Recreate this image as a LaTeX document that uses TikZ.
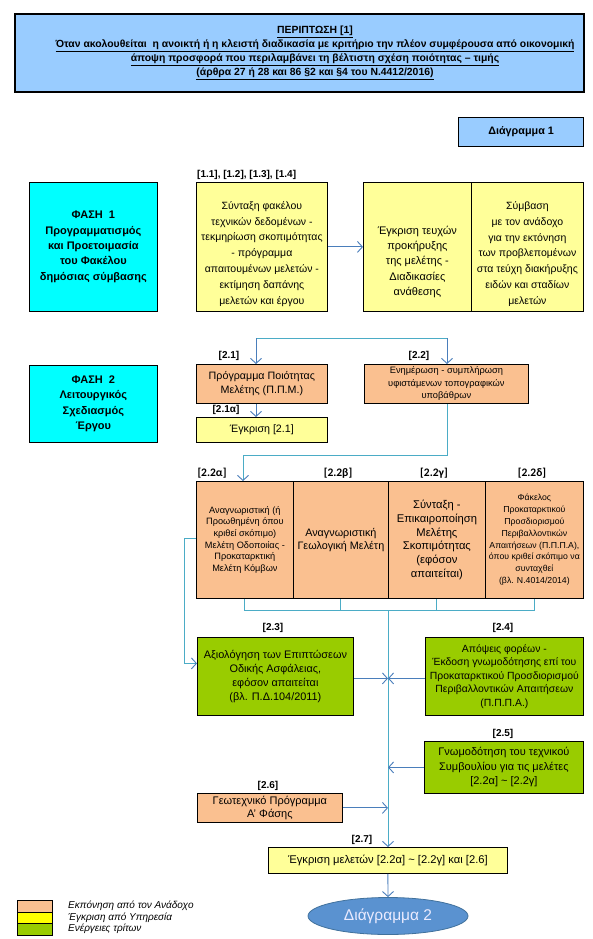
\documentclass[tikz,border=0pt]{standalone}
\usepackage{fontspec}
\setmainfont{Liberation Sans}
\newfontfamily\calib{Carlito}
\usetikzlibrary{arrows.meta,shapes.geometric}
\definecolor{titleblue}{HTML}{99CCFF}
\definecolor{cyanbox}{HTML}{00FFFF}
\definecolor{lyellow}{HTML}{FFFF99}
\definecolor{peach}{HTML}{FAC090}
\definecolor{greenbox}{HTML}{99CC00}
\definecolor{byellow}{HTML}{FFFF00}
\definecolor{ellblue}{HTML}{5A92D0}
\definecolor{ellborder}{HTML}{41719C}
\definecolor{tealline}{HTML}{4BACC6}
\definecolor{arrblue}{HTML}{4A7EBB}
\newcommand\myfs[2]{\fontsize{#1}{#2}\selectfont}
\begin{document}
\begin{tikzpicture}[x=1pt,y=-1pt,
  bx/.style={draw=black, line width=0.8pt, inner sep=1pt, align=center, anchor=north west},
  txt/.style={align=center, inner sep=0pt},
  lbl/.style={font=\bfseries\myfs{10}{12}, inner sep=0pt},
  clbl/.style={font=\calib\bfseries\myfs{11.5}{13}, inner sep=0pt},
  conn/.style={draw=tealline, line width=0.9pt},
  arr/.style={draw=arrblue, line width=0.9pt, -{Straight Barb[length=5pt,width=11pt]}},
  tarr/.style={draw=tealline, line width=0.9pt, -{Straight Barb[length=5pt,width=11pt,color=arrblue]}},
  legtxt/.style={font=\itshape\myfs{10}{11}, inner sep=0pt, anchor=west}
]
\useasboundingbox (0,0) rectangle (593,939);
% title
\node[bx, line width=1.8pt, fill=titleblue, minimum width=569pt, minimum height=78pt] (title) at (14,13) {};
\node[txt, font=\bfseries\myfs{10.4}{14}] (titletext) at (315,52.5)
 {\underline{ΠΕΡΙΠΤΩΣΗ [1]}\\
  \underline{Όταν ακολουθείται\ \ η ανοικτή ή η κλειστή διαδικασία με κριτήριο την πλέον συμφέρουσα από οικονομική}\\
  \underline{άποψη προσφορά που περιλαμβάνει τη βέλτιστη σχέση ποιότητας – τιμής}\\
  \underline{(άρθρα 27 ή 28 και 86 §2 και §4 του Ν.4412/2016)}};
\node[bx, line width=1.2pt, fill=titleblue, minimum width=125pt, minimum height=29pt, font=\bfseries\myfs{10.8}{12}] (dia1) at (458,117) {Διάγραμμα 1};

% phase 1
\node[bx, fill=cyanbox, minimum width=128pt, minimum height=129pt, font=\bfseries\myfs{11}{15.4}] (ph1) at (29,182)
 {ΦΑΣΗ\ \ 1\\Προγραμματισμός\\και Προετοιμασία\\του Φακέλου\\δημόσιας σύμβασης};
\node[bx, fill=lyellow, minimum width=131pt, minimum height=129pt] (b11) at (196,182) {};
\node[txt, font=\myfs{10.5}{15.8}] (t11) at ([yshift=-7pt]b11.center)
 {Σύνταξη φακέλου\\τεχνικών δεδομένων -\\τεκμηρίωση σκοπιμότητας\\- πρόγραμμα\\απαιτουμένων μελετών -\\εκτίμηση δαπάνης\\μελετών και έργου};
\node[lbl, anchor=west] (l11) at (197,175) {[1.1], [1.2], [1.3], [1.4]};
\node[bx, fill=lyellow, minimum width=108pt, minimum height=129pt] (b12) at (363,182) {};
\node[txt, font=\myfs{11}{15.4}] (t12) at ([yshift=-15pt]b12.center)
 {Έγκριση τευχών\\προκήρυξης\\της μελέτης -\\Διαδικασίες\\ανάθεσης};
\node[bx, fill=lyellow, minimum width=112pt, minimum height=129pt] (b13) at (471,182) {};
\node[txt, font=\myfs{10.5}{15.8}] (t13) at ([yshift=-7pt]b13.center)
 {Σύμβαση\\με τον ανάδοχο\\για την εκτόνηση\\των προβλεπομένων\\στα τεύχη διακήρυξης\\ειδών και σταδίων\\μελετών};
\draw[arr] (b11) -- (b12);

% phase 2
\node[bx, fill=cyanbox, minimum width=128pt, minimum height=77pt, font=\bfseries\myfs{11}{15.4}] (ph2) at (29,365)
 {ΦΑΣΗ\ \ 2\\Λειτουργικός\\Σχεδιασμός\\Έργου};
\node[bx, fill=peach, minimum width=131pt, minimum height=39pt, font=\myfs{10.7}{14}] (b21) at (196,364)
 {Πρόγραμμα Ποιότητας\\Μελέτης (Π.Π.Μ.)};
\node[lbl] (l21) at (229,356) {[2.1]};
\node[bx, fill=lyellow, minimum width=131pt, minimum height=25pt, font=\myfs{10.7}{12}] (b21a) at (196,417)
 {Έγκριση [2.1]};
\node[lbl] (l21a) at (226,410) {[2.1α]};
\node[bx, fill=peach, minimum width=164pt, minimum height=39pt, font=\myfs{9.3}{12.5}] (b22) at (364,364)
 {Ενημέρωση - συμπλήρωση\\υφιστάμενων τοπογραφικών\\υποβάθρων};
\node[lbl] (l22) at (419,356) {[2.2]};

\coordinate (h1) at (256,338);
\coordinate (h2) at (447,338);
\draw[conn] (h1) -- (h2);
\draw[arr] (h1) -- (h1 |- b21.north);
\draw[arr] (h2) -- (h2 |- b22.north);
\draw[arr] (h1 |- b21.south) -- (h1 |- b21a.north);

% row 2.2
\node[bx, fill=peach, minimum width=97pt, minimum height=117pt, font=\myfs{9.2}{11.7}] (c1) at (196,481)
 {Αναγνωριστική (ή\\Προωθημένη όπου\\κριθεί σκόπιμο)\\Μελέτη Οδοποιίας -\\Προκαταρκτική\\Μελέτη Κόμβων};
\node[bx, fill=peach, minimum width=95pt, minimum height=117pt, font=\myfs{10.8}{13.4}] (c2) at (293,481)
 {Αναγνωριστική\\Γεωλογική Μελέτη};
\node[bx, fill=peach, minimum width=97pt, minimum height=117pt, font=\myfs{11.2}{13.7}] (c3) at (388,481)
 {Σύνταξη -\\Επικαιροποίηση\\Μελέτης\\Σκοπιμότητας\\(εφόσον\\απαιτείται)};
\node[bx, fill=peach, minimum width=98pt, minimum height=117pt, font=\myfs{8.7}{11.8}] (c4) at (485,481)
 {Φάκελος\\Προκαταρκτικού\\Προσδιορισμού\\Περιβαλλοντικών\\Απαιτήσεων (Π.Π.Π.Α),\\όπου κριθεί σκόπιμο να\\συνταχθεί\\(βλ. Ν.4014/2014)};
\node[clbl] (lc1) at (212,473) {[2.2α]};
\node[clbl] (lc2) at (338,473) {[2.2β]};
\node[clbl] (lc3) at (434,473) {[2.2γ]};
\node[clbl] (lc4) at (532,473) {[2.2δ]};

\coordinate (dn) at (243,455);
\draw[conn] (h2 |- b22.south) |- (dn);
\draw[tarr] (dn) -- (dn |- c1.north);

% bracket and centre line
\coordinate (cl) at (388,610);
\draw[conn] (c1.south) -- (c1.south |- cl) -- (c4.south |- cl) -- (c4.south);
\draw[conn] (c2.south) -- (c2.south |- cl);
\draw[conn] (c3.south) -- (c3.south |- cl);

% 2.3 - 2.7
\node[bx, fill=greenbox, minimum width=156pt, minimum height=78pt, font=\myfs{10.9}{14}] (b23) at (197,637)
 {Αξιολόγηση των Επιπτώσεων\\Οδικής Ασφάλειας,\\εφόσον απαιτείται\\(βλ. Π.Δ.104/2011)};
\node[lbl] (l23) at (273,628) {[2.3]};
\node[bx, fill=greenbox, minimum width=158pt, minimum height=78pt, font=\myfs{10.4}{13.6}] (b24) at (425,637)
 {Απόψεις φορέων -\\Έκδοση γνωμοδότησης επί του\\Προκαταρκτικού Προσδιορισμού\\Περιβαλλοντικών Απαιτήσεων\\(Π.Π.Π.Α.)};
\node[lbl] (l24) at (503,628) {[2.4]};
\node[bx, fill=greenbox, minimum width=159pt, minimum height=52pt, font=\myfs{11}{14.5}] (b25) at (424,741)
 {Γνωμοδότηση του τεχνικού\\Συμβουλίου για τις μελέτες\\{}[2.2α] \textasciitilde{} [2.2γ]};
\node[lbl] (l25) at (503,734) {[2.5]};
\node[bx, fill=peach, minimum width=145pt, minimum height=29pt, font=\myfs{11}{13.5}] (b26) at (197,793)
 {Γεωτεχνικό Πρόγραμμα\\Α' Φάσης};
\node[lbl] (l26) at (268,786) {[2.6]};
\node[bx, fill=lyellow, minimum width=239pt, minimum height=26pt, font=\myfs{11.2}{12}] (b27) at (268,847)
 {Έγκριση μελετών [2.2α] \textasciitilde{} [2.2γ] και [2.6]};
\node[lbl] (l27) at (362,840) {[2.7]};
\node[ellipse, draw=ellborder, line width=0.8pt, fill=ellblue, minimum width=160pt, minimum height=37pt, inner sep=0pt, text=white!92!blue, font=\myfs{15.5}{17}] (ell) at (388,916) {Διάγραμμα 2};

\draw[conn] ([yshift=1.5pt]c1.west) -- ++(-12,0) coordinate (lp);
\draw[tarr] (lp) |- ([yshift=13pt]b23.west);
\draw[tarr] (cl) -- (cl |- b27.north);
\draw[arr] ([yshift=-2pt]b23.east) -- ([yshift=-2pt]b23.east -| cl);
\draw[arr] ([yshift=-2pt]b24.west) -- ([yshift=-2pt]b24.west -| cl);
\draw[arr] (b25.west) -- (b25.west -| cl);
\draw[arr] (b26.east) -- (b26.east -| cl);
\draw[arr] (b27.south) -- (ell.north);

% legend
\node[bx, line width=0.6pt, fill=peach, minimum width=35pt, minimum height=12pt, inner sep=0pt] (lg1) at (17,900) {};
\node[bx, line width=0.6pt, fill=byellow, minimum width=35pt, minimum height=11pt, inner sep=0pt] (lg2) at (17,912) {};
\node[bx, line width=0.6pt, fill=greenbox, minimum width=35pt, minimum height=12pt, inner sep=0pt] (lg3) at (17,923) {};
\node[legtxt] (lt1) at (68,906) {Εκπόνηση από τον Ανάδοχο};
\node[legtxt] (lt2) at (68,917.5) {Έγκριση από Υπηρεσία};
\node[legtxt] (lt3) at (68,929) {Ενέργειες τρίτων};
\end{tikzpicture}
\end{document}
